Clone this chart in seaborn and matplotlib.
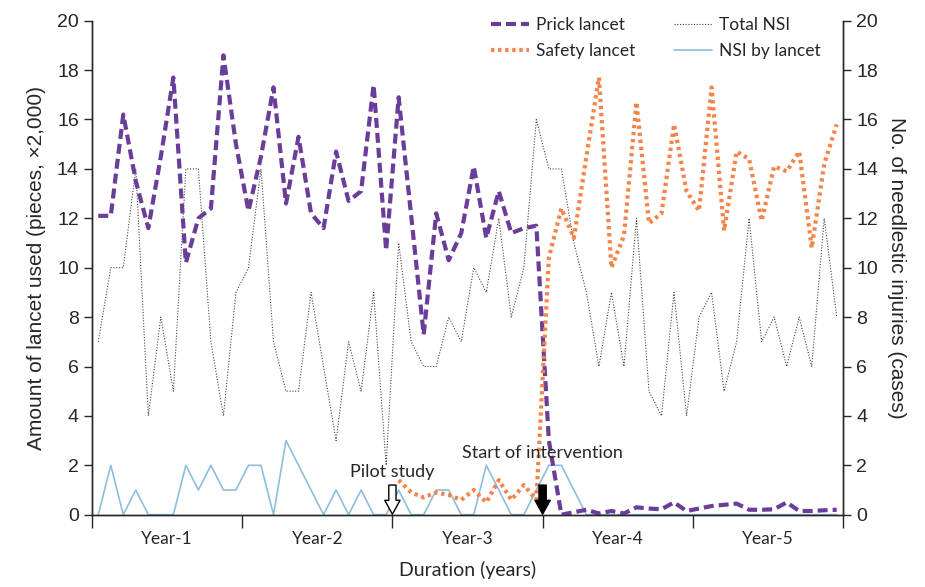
import numpy as np
import matplotlib
matplotlib.use("Agg")
import matplotlib.pyplot as plt
import seaborn as sns

# monthly values, 5 years (60 months)
months = list(range(60))

prick = [12.1, 12.1, 16.2, 13.5, 11.6, 14.5, 17.7, 10.2, 12.0, 12.4,
         18.6, 15.0, 12.3, 14.5, 17.3, 12.6, 15.3, 12.2, 11.6, 14.7,
         12.7, 13.1, 17.4, 10.7, 16.9, 12.1, 7.3, 12.2, 10.3, 11.4,
         14.1, 11.2, 13.1, 11.4, 11.6, 11.7, 3.0, 0.0, 0.1, 0.2,
         0.05, 0.15, 0.05, 0.3, 0.25, 0.22, 0.5, 0.15, 0.25, 0.35,
         0.4, 0.45, 0.2, 0.2, 0.22, 0.5, 0.15, 0.15, 0.18, 0.2]

safety_months = months[24:]
safety = [1.4, 0.9, 0.7, 0.9, 0.8, 0.6, 1.0, 0.5, 1.4, 0.6,
          1.2, 0.6, 10.4, 12.4, 11.2, 14.5, 17.7, 10.0, 11.3, 16.7,
          11.8, 12.2, 15.8, 13.1, 12.3, 17.3, 11.5, 14.7, 14.4, 11.9,
          14.1, 13.9, 14.7, 10.8, 14.2, 15.8]

total_nsi = [7, 10, 10, 14, 4, 8, 5, 14, 14, 7,
             4, 9, 10, 14, 7, 5, 5, 9, 6, 3,
             7, 5, 9, 2, 11, 7, 6, 6, 8, 7,
             10, 9, 12, 8, 10, 16, 14, 14, 11, 9,
             6, 9, 6, 12, 5, 4, 9, 4, 8, 9,
             5, 7, 12, 7, 8, 6, 8, 6, 12, 8]

nsi_lancet = [0, 2, 0, 1, 0, 0, 0, 2, 1, 2,
              1, 1, 2, 2, 0, 3, 2, 1, 0, 1,
              0, 1, 0, 0, 1, 0, 0, 1, 1, 0,
              0, 2, 1, 0, 0, 1, 2, 2, 1, 0,
              0, 0, 0, 0, 0, 0, 0, 0, 0, 0,
              0, 0, 0, 0, 0, 0, 0, 0, 0, 0]

year_labels = ["Year-1", "Year-2", "Year-3", "Year-4", "Year-5"]

sns.set_style("ticks")
plt.rcParams["font.family"] = ["Liberation Sans", "DejaVu Sans"]
label_font = ["Lato", "DejaVu Sans"]

fig = plt.figure(figsize=(9.25, 5.87), dpi=100)
ax = fig.add_axes([92 / 925, 1 - 514.7 / 587, (843 - 92) / 925, (514.7 - 20.7) / 587])
ax2 = ax.twinx()

purple = "#6a3d9a"
orange = "#f4844a"
blue = "#8cbfdc"

sns.lineplot(x=months, y=total_nsi, ax=ax2, color="#444444", lw=0.8,
             label="Total NSI", legend=False)
ax2.lines[-1].set_linestyle((0, (1, 1.5)))
sns.lineplot(x=months, y=nsi_lancet, ax=ax2, color=blue, lw=1.2,
             label="NSI by lancet", legend=False)

sns.lineplot(x=months, y=prick, ax=ax, color=purple, lw=3,
             label="Prick lancet", legend=False)
ax.lines[-1].set_linestyle((0, (2.4, 1.2)))
sns.lineplot(x=safety_months, y=safety, ax=ax, color=orange, lw=3,
             label="Safety lancet", legend=False)
ax.lines[-1].set_linestyle((0, (0.8, 0.9)))

ax.set_zorder(ax2.get_zorder() + 1)
ax.patch.set_visible(False)

for a in (ax, ax2):
    a.set_xlim(-0.5, 59.5)
    a.set_ylim(0, 20)
    a.set_yticks(range(0, 21, 2))
    a.spines["top"].set_visible(False)
    a.tick_params(axis="y", labelsize=14, length=6, width=1, direction="out")
    for s in ("left", "right", "bottom"):
        a.spines[s].set_linewidth(1)

ax.set_xticks([-0.5 + 12 * i for i in range(6)])
ax.set_xticklabels([])
ax.set_xticks([5.5 + 12 * i for i in range(5)], minor=True)
ax.set_xticklabels(year_labels, minor=True, family=label_font, fontsize=12.5)
ax.tick_params(axis="x", which="major", length=9, width=1)
ax.tick_params(axis="x", which="minor", length=0, pad=12)

ax.set_ylabel("Amount of lancet used (pieces, \u00d72,000)", fontsize=15, labelpad=8)
ax2.set_ylabel("No. of needlestic injuries (cases)", fontsize=15, rotation=270, labelpad=20)
ax.set_xlabel("Duration (years)", fontsize=14, family=label_font, labelpad=10)

# markers of pilot study and intervention start
arrow_style = "simple,head_width=0.55,head_length=0.5,tail_width=0.26"
ax.annotate("", xy=(23.5, 0.02), xytext=(23.5, 1.2),
            arrowprops=dict(arrowstyle=arrow_style, mutation_scale=20,
                            fc="white", ec="black", lw=1, shrinkA=0, shrinkB=0),
            annotation_clip=False)
ax.annotate("", xy=(35.5, 0.02), xytext=(35.5, 1.2),
            arrowprops=dict(arrowstyle=arrow_style, mutation_scale=20,
                            fc="black", ec="black", lw=1, shrinkA=0, shrinkB=0),
            annotation_clip=False)
ax.text(23.5, 1.72, "Pilot study", ha="center", va="center", fontsize=13, family=label_font)
ax.text(35.5, 2.5, "Start of intervention", ha="center", va="center", fontsize=13, family=label_font)

handles = [ax.lines[0], ax.lines[1], ax2.lines[0], ax2.lines[1]]
labels = ["Prick lancet", "Safety lancet", "Total NSI", "NSI by lancet"]
fig.legend(handles, labels, ncol=2, loc="upper right", frameon=False,
           bbox_to_anchor=(836 / 925, 1 - 1 / 587), prop={"family": label_font, "size": 12.5},
           handlelength=2.2, columnspacing=2.2, labelspacing=0.6, handletextpad=0.4)

fig.savefig("out.png", dpi=100)
